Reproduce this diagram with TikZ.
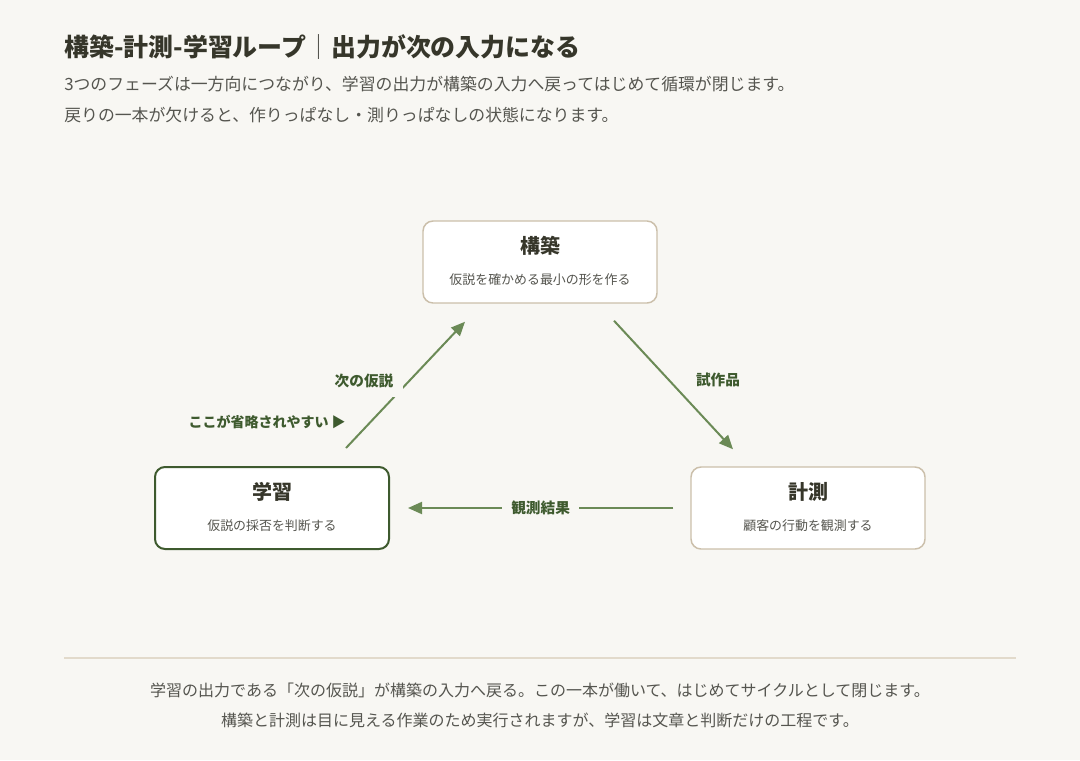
\documentclass[tikz,border=0pt]{standalone}
\usepackage{fontspec}
\setmainfont{Noto Sans CJK JP}
\usetikzlibrary{positioning, arrows.meta, calc}

\definecolor{paper}{HTML}{F8F7F3}
\definecolor{ink}{HTML}{36362A}
\definecolor{mute}{HTML}{55554F}
\definecolor{tan}{HTML}{CBBFAA}
\definecolor{moss}{HTML}{3E5A2E}
\definecolor{fern}{HTML}{6B8A56}
\definecolor{rule}{HTML}{E2DACB}

\begin{document}
\begin{tikzpicture}[
    x=0.75pt, y=-0.75pt,
    phase/.style={draw=tan, line width=1.1pt, fill=white, rounded corners=7.5pt, minimum width=175.5pt, minimum height=61.5pt},
    phasetitle/.style={font=\fontsize{15}{18}\selectfont\bfseries, text=ink},
    phasesub/.style={font=\fontsize{9.7}{12}\selectfont, text=mute},
    flow/.style={draw=fern, line width=1.5pt, -{Triangle[length=10.5pt, width=9pt]}},
    flowlabel/.style={font=\fontsize{11}{12}\selectfont\bfseries, text=moss, fill=paper, inner xsep=7pt, inner ysep=6.5pt},
    para/.style={font=\fontsize{12.65}{14}\selectfont, text=mute, anchor=base west},
    note/.style={font=\fontsize{12}{14}\selectfont, text=mute, anchor=base}
]

    % Page
    \fill[paper] (0,0) rectangle (1080,760);

    % Heading
    \node[anchor=base west, font=\fontsize{18.7}{20}\selectfont\bfseries, text=ink, inner sep=0] (title) at (64,56) {構築-計測-学習ループ{\mdseries\color{mute}｜}出力が次の入力になる};
    \node[para, inner sep=0] (lead1) at (64,90) {3つのフェーズは一方向につながり、学習の出力が構築の入力へ戻ってはじめて循環が閉じます。};
    \node[para, inner sep=0] (lead2) at (64,121) {戻りの一本が欠けると、作りっぱなし・測りっぱなしの状態になります。};

    % Phases
    \node[phase] (build) at (540,262) {};
    \node[phase, draw=moss, line width=1.5pt] (learn) at (272,508) {};
    \node[phase] (measure) at (808,508) {};

    \node[phasetitle] (buildT) at ($(build.center)+(0,-16)$) {構築};
    \node[phasesub] (buildS) at ($(build.center)+(0,18)$) {仮説を確かめる最小の形を作る};
    \node[phasetitle] (learnT) at ($(learn.center)+(0,-16)$) {学習};
    \node[phasesub] (learnS) at ($(learn.center)+(0,18)$) {仮説の採否を判断する};
    \node[phasetitle] (measureT) at ($(measure.center)+(0,-16)$) {計測};
    \node[phasesub] (measureS) at ($(measure.center)+(0,18)$) {顧客の行動を観測する};

    % Arrow ends
    \coordinate (learnOut) at ($(learn.north)+(74,-18)$);
    \coordinate (buildIn) at ($(build.south)+(-75,18)$);
    \coordinate (buildOut) at ($(build.south)+(74,17)$);
    \coordinate (measureIn) at ($(measure.north)+(-75,-17)$);
    \coordinate (measureOut) at ($(measure.west)+(-17,0)$);
    \coordinate (learnIn) at ($(learn.east)+(18,0)$);

    % Loop
    \draw[flow] (buildOut) -- (measureIn);
    \node[flowlabel] (proto) at (718,380) {試作品};

    \draw[flow] (measureOut) -- (learnIn) node[flowlabel, midway] (result) {観測結果};

    \draw[flow] (learnOut) -- (buildIn);
    \node[flowlabel] (next) at (364,381) {次の仮説};

    % Hint
    \node[anchor=east, font=\fontsize{10.5}{12}\selectfont\bfseries, text=moss, inner sep=0] (hint) at (346,422) {ここが省略されやすい ▶};

    % Footer
    \draw[rule, line width=0.9pt] (64,658) -- (1016,658);
    \node[note] (foot1) at (540,696) {学習の出力である「次の仮説」が構築の入力へ戻る。この一本が働いて、はじめてサイクルとして閉じます。};
    \node[note] (foot2) at (540,726) {構築と計測は目に見える作業のため実行されますが、学習は文章と判断だけの工程です。};

\end{tikzpicture}
\end{document}
